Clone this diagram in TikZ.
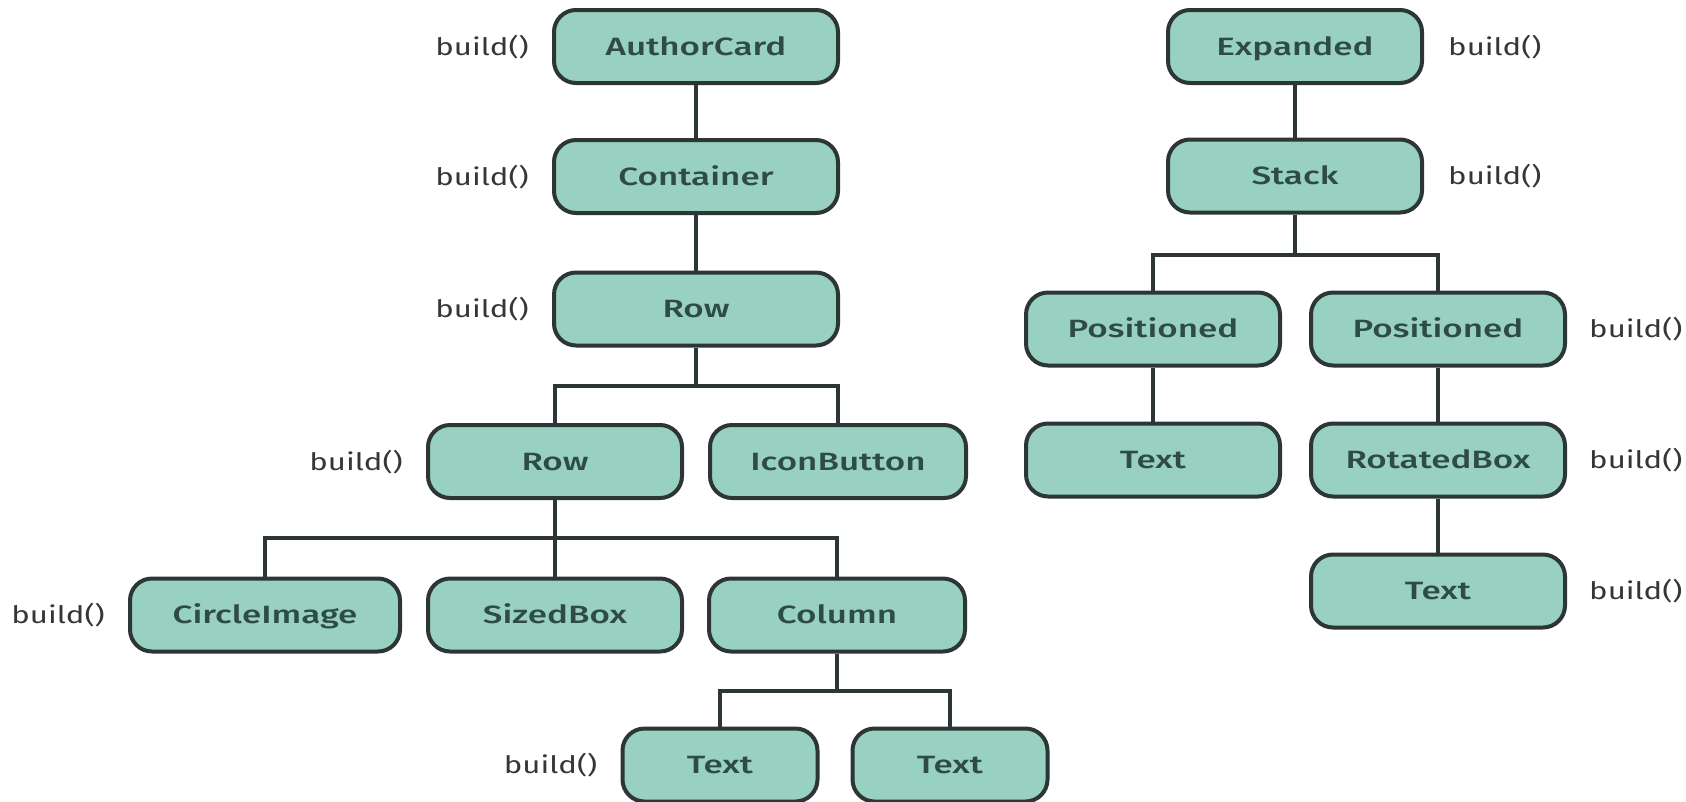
\documentclass[tikz,border=0pt]{standalone}
\usepackage{fontspec}
\setmainfont{Fira Sans}[FakeStretch=1.4, BoldFont={Fira Sans Medium}, BoldFeatures={FakeStretch=1.4}]
\newfontfamily\callfont{Fira Sans}[FakeStretch=1.3]
\usetikzlibrary{positioning}

\definecolor{boxfill}{HTML}{98D1C2}
\definecolor{boxline}{HTML}{2C3634}
\definecolor{boxtext}{HTML}{2F4B46}
\definecolor{calltext}{HTML}{363636}

\tikzset{
  widget/.style={draw=boxline, fill=boxfill, line width=4pt, rounded corners=22pt,
    minimum height=73pt, minimum width=#1, inner sep=0pt, text=boxtext,
    text height=17.5pt, text depth=0pt,
    font=\fontsize{25}{30}\selectfont\bfseries},
  widget/.default=254pt,
  link/.style={draw=boxline, line width=4pt},
  buildcall/.style={text=calltext, inner sep=0pt, text height=17.5pt, text depth=0pt,
    font=\fontsize{24}{28}\selectfont\callfont},
}

\begin{document}
\begin{tikzpicture}[x=1pt, y=-1pt, node distance=24pt]
\useasboundingbox (0,0) rectangle (1686,801);

% ---- widget tree of AuthorCard ----
\node[widget=284pt] (card) at (696,46.5) {AuthorCard};
\node[widget=284pt] (cont) at (696,176.5) {Container};
\node[widget=284pt] (row)  at (696,309) {Row};
\node[widget=254pt] (rowb) at (555,461.5) {Row};
\node[widget=256pt] (icon) at (838,461.5) {IconButton};
\node[widget=270pt] (circ) at (265,615) {CircleImage};
\node[widget=254pt] (sized) at (555,615) {SizedBox};
\node[widget=256pt] (col)  at (837,615) {Column};
\node[widget=195pt] (txta) at (720,765) {Text};
\node[widget=195pt] (txtb) at (950,765) {Text};

\coordinate (forkrow) at (696,386);
\coordinate (forkrowb) at (555,538);
\coordinate (forkcol) at (837,691);

\draw[link] (card.south) -- (cont.north);
\draw[link] (cont.south) -- (row.north);
\draw[link] (row.south) -- (forkrow);
\draw[link] (rowb.north) |- (forkrow) -| (icon.north);
\draw[link] (rowb.south) -- (sized.north);
\draw[link] (circ.north) |- (forkrowb) -| (col.north);
\draw[link] (col.south) -- (forkcol);
\draw[link] (txta.north) |- (forkcol) -| (txtb.north);

\node[buildcall, left=23pt of card] (bcard) {build()};
\node[buildcall, left=23pt of cont] (bcont) {build()};
\node[buildcall, left=23pt of row]  (brow)  {build()};
\node[buildcall, left=23pt of rowb] (browb) {build()};
\node[buildcall, left=23pt of circ] (bcirc) {build()};
\node[buildcall, left=23pt of txta] (btxta) {build()};

% ---- widget tree of Expanded ----
\node[widget] (exp)   at (1295,46.5) {Expanded};
\node[widget] (stack) at (1295,176) {Stack};
\node[widget] (posa)  at (1153,329) {Positioned};
\node[widget] (posb)  at (1438,329) {Positioned};
\node[widget] (txtc)  at (1153,460) {Text};
\node[widget] (rot)   at (1438,460) {RotatedBox};
\node[widget] (txtd)  at (1438,591) {Text};

\coordinate (forkstack) at (1295,255);

\draw[link] (exp.south) -- (stack.north);
\draw[link] (stack.south) -- (forkstack);
\draw[link] (posa.north) |- (forkstack) -| (posb.north);
\draw[link] (posa.south) -- (txtc.north);
\draw[link] (posb.south) -- (rot.north);
\draw[link] (rot.south) -- (txtd.north);

\node[buildcall, right=24pt of exp]   (bexp)   {build()};
\node[buildcall, right=24pt of stack] (bstack) {build()};
\node[buildcall, right=22pt of posb]  (bposb)  {build()};
\node[buildcall, right=22pt of rot]   (brot)   {build()};
\node[buildcall, right=22pt of txtd]  (btxtd)  {build()};
\end{tikzpicture}
\end{document}
